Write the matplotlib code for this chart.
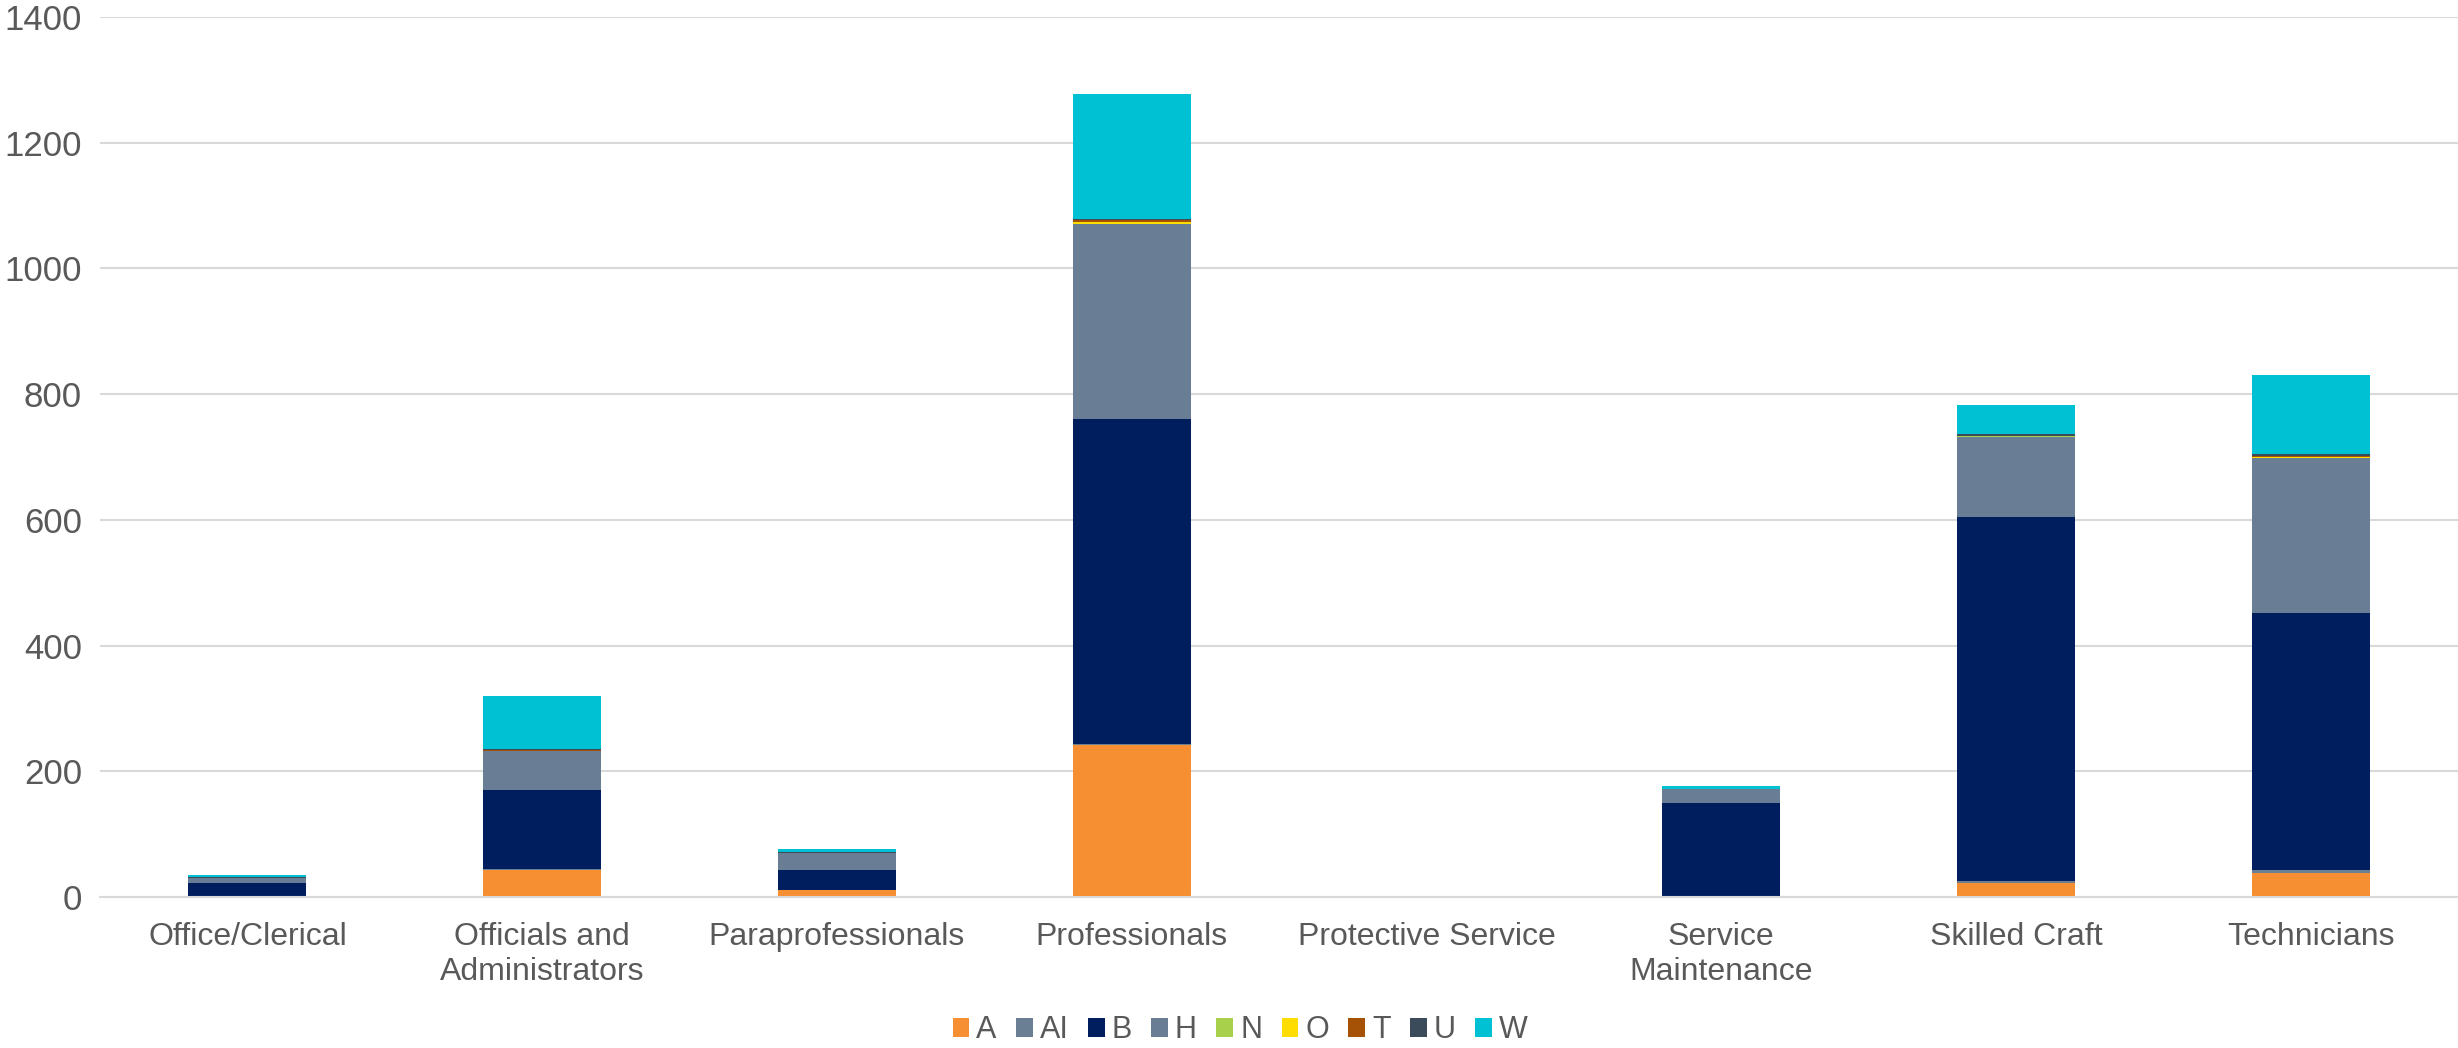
import numpy as np
import matplotlib.pyplot as plt

plt.rcParams['font.family'] = ['Liberation Sans', 'DejaVu Sans']

categories = ["Office/Clerical", "Officials and\nAdministrators", "Paraprofessionals",
              "Professionals", "Protective Service", "Service\nMaintenance",
              "Skilled Craft", "Technicians"]

# series values per category
A  = [0, 43, 11, 242, 0, 0, 22, 39]
AI = [0, 1, 1, 2, 0, 0, 4, 4]
B  = [23, 126, 31, 517, 0, 149, 579, 409]
H  = [8, 63, 27, 309, 0, 23, 127, 246]
N  = [0, 0, 0, 1, 0, 0, 1, 1]
O  = [0, 0, 0, 3, 0, 0, 0, 1]
T  = [0, 1, 0, 2, 0, 0, 0, 1]
U  = [1, 1, 1, 2, 0, 0, 3, 3]
W  = [3, 85, 6, 199, 0, 4, 46, 127]

series_names = ["A", "AI", "B", "H", "N", "O", "T", "U", "W"]
series = [A, AI, B, H, N, O, T, U, W]
colors = ["#F58F31", "#6A7F94", "#001E5E", "#697E94", "#A8D04A",
          "#FFDD00", "#A65206", "#3C4B5A", "#00C1D4"]

fig, ax = plt.subplots(figsize=(24.58, 10.48), dpi=100)
fig.subplots_adjust(left=0.0407, right=1.0, top=0.984, bottom=0.144)

x = np.arange(len(categories))
bottom = np.zeros(len(categories))
for name, vals, col in zip(series_names, series, colors):
    ax.bar(x, vals, width=0.4, bottom=bottom, color=col, label=name, linewidth=0)
    bottom += np.array(vals)

ax.set_xlim(-0.5, len(categories) - 0.5)
ax.set_ylim(0, 1400)
ax.set_yticks(np.arange(0, 1401, 200))
ax.yaxis.grid(True, color="#D9D9D9", linewidth=1.5)
ax.set_axisbelow(True)
for s in ["top", "right", "left"]:
    ax.spines[s].set_visible(False)
ax.spines["bottom"].set_color("#D9D9D9")
ax.spines["bottom"].set_linewidth(1.5)

ax.set_xticks(x)
ax.set_xticklabels(categories, fontsize=23, color="#595959")
ax.tick_params(axis="y", labelsize=25, labelcolor="#595959", length=0, pad=13)
ax.tick_params(axis="x", length=0, pad=18)

fig.legend(loc="center", bbox_to_anchor=(0.5045, 0.017), ncol=9, frameon=False,
           fontsize=22, labelcolor="#595959", handlelength=0.55, handleheight=0.55,
           handletextpad=0.22, columnspacing=0.64, borderpad=0)

fig.savefig("out.png")
